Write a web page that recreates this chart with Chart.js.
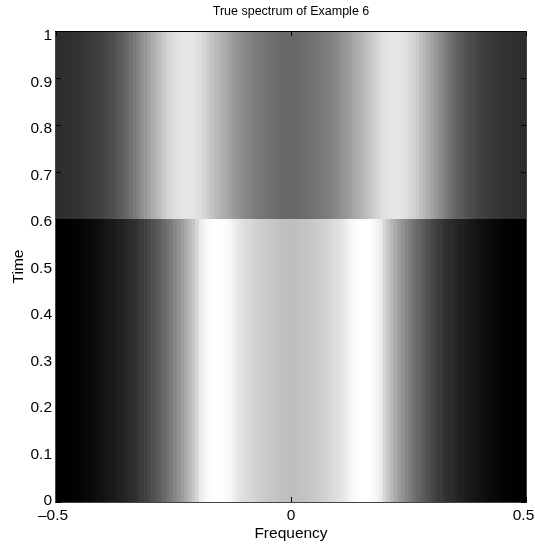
<!DOCTYPE html>
<html>
<head>
<meta charset="utf-8">
<title>True spectrum of Example 6</title>
<script src="https://cdn.jsdelivr.net/npm/chart.js@4/dist/chart.umd.min.js"></script>
<style>
    body { margin: 0; background: #fff; }
    canvas { display: block; }
</style>
</head>
<body>
<canvas id="espectro" width="535" height="544"></canvas>
<script>
// one grey level per frequency column, left to right
const lowerGray = [
    0, 0, 0, 1, 2, 3, 4, 6, 8, 10,
    12, 14, 17, 20, 23, 26, 29, 32, 36, 40,
    44, 48, 53, 59, 65, 72, 80, 88, 96, 104,
    114, 124, 134, 146, 158, 170, 184, 198, 214, 236,
    244, 249, 253, 255, 255, 254, 250, 246, 240, 232,
    226, 222, 218, 214, 210, 207, 204, 201, 199, 197,
    195, 193, 192, 190,
    190, 192, 193, 195,
    197, 199, 201, 204, 207, 210, 214, 218, 222, 226,
    232, 240, 246, 250, 254, 255, 255, 253, 249, 244,
    236, 214, 198, 184, 170, 158, 146, 134, 124, 114,
    104, 96, 88, 80, 72, 65, 59, 53, 48, 44,
    40, 36, 32, 29, 26, 23, 20, 17, 14, 12,
    10, 8, 6, 4, 3, 2, 1, 0, 0, 0
];
const upperGray = [
    45, 46, 47, 48, 49, 50, 52, 54, 56, 58,
    60, 63, 66, 70, 74, 78, 84, 90, 96, 104,
    112, 122, 132, 142, 152, 162, 172, 182, 192, 202,
    210, 216, 222, 226, 228, 230, 230, 229, 226, 220,
    212, 204, 196, 188, 180, 174, 168, 160, 154, 148,
    142, 137, 132, 128, 124, 120, 117, 114, 112, 110,
    108, 106, 105, 104,
    104, 105, 106, 108,
    110, 112, 114, 117, 120, 124, 128, 132, 137, 142,
    148, 154, 160, 168, 174, 180, 188, 196, 204, 212,
    220, 226, 229, 230, 230, 228, 226, 222, 216, 210,
    202, 192, 182, 172, 162, 152, 142, 132, 122, 112,
    104, 96, 90, 84, 78, 74, 70, 66, 63, 60,
    58, 56, 54, 52, 50, 49, 48, 47, 46, 45
];
const timeBreak = 0.6;
const xTickValues = [-0.5, 0, 0.5];
const xTickLabels = ['–0.5', '0', '0.5'];
const yTickValues = [0, 0.1, 0.2, 0.3, 0.4, 0.5, 0.6, 0.7, 0.8, 0.9, 1];
const yTickLabels = ['0', '0.1', '0.2', '0.3', '0.4', '0.5', '0.6', '0.7', '0.8', '0.9', '1'];

// in the original the labels sit a little inside their tick marks
const xLabelAt = [-0.5064, 0, 0.4947];
const yLabelAt = v => 0.0023 + 0.9873 * v;

const FONT = { family: '"Liberation Sans", Arial, sans-serif', size: 15.5 };
const gray = g => `rgb(${g},${g},${g})`;
const columnCenter = i => -0.5 + (i + 0.5) / lowerGray.length;

// matlab style box with the ticks pointing inwards
const boxAndTicks = {
    id: 'boxAndTicks',
    afterDatasetsDraw(chart) {
        const { ctx, chartArea: a, scales: { x, y } } = chart;
        ctx.save();
        ctx.lineWidth = 1;
        ctx.strokeStyle = '#444';
        ctx.strokeRect(a.left - 0.5, a.top + 0.5, a.right - a.left + 1, a.bottom - a.top);
        ctx.strokeStyle = '#000';
        ctx.beginPath();
        ctx.moveTo(a.left - 1, a.top + 0.5); ctx.lineTo(a.right + 1, a.top + 0.5);
        xTickValues.forEach(v => {
            const px = Math.round(x.getPixelForValue(v)) + 0.5;
            ctx.moveTo(px, a.bottom); ctx.lineTo(px, a.bottom - 5);
            ctx.moveTo(px, a.top); ctx.lineTo(px, a.top + 5);
        });
        yTickValues.forEach(v => {
            const py = Math.round(y.getPixelForValue(v)) + 0.5;
            ctx.moveTo(a.left, py); ctx.lineTo(a.left + 5, py);
            ctx.moveTo(a.right, py); ctx.lineTo(a.right - 5, py);
        });
        ctx.stroke();
        ctx.restore();
    }
};

new Chart(document.getElementById('espectro'), {
    type: 'bar',
    data: {
        datasets: [
            {
                label: 'Time 0 to 0.6',
                data: lowerGray.map((_, i) => ({ x: columnCenter(i), y: [0, timeBreak] })),
                backgroundColor: lowerGray.map(gray)
            },
            {
                label: 'Time 0.6 to 1',
                data: upperGray.map((_, i) => ({ x: columnCenter(i), y: [timeBreak, 1] })),
                backgroundColor: upperGray.map(gray)
            }
        ]
    },
    options: {
        responsive: false,
        animation: false,
        layout: { padding: { right: 9 } },
        grouped: false,
        barPercentage: 1,
        categoryPercentage: 1,
        plugins: {
            legend: { display: false },
            tooltip: { enabled: false },
            title: {
                display: true,
                text: 'True spectrum of Example 6',
                color: '#000',
                font: { ...FONT, size: 12.5, weight: 'normal' },
                fullSize: false,
                padding: { top: 4, bottom: 12 }
            }
        },
        scales: {
            x: {
                type: 'linear',
                offset: false,
                min: -0.5,
                max: 0.5,
                grid: { display: false, drawTicks: false },
                border: { display: false },
                afterBuildTicks(scale) { scale.ticks = xLabelAt.map(value => ({ value })); },
                ticks: {
                    autoSkip: false,
                    maxRotation: 0,
                    padding: 4,
                    color: '#000',
                    font: FONT,
                    callback: (v, i) => xTickLabels[i]
                },
                title: { display: true, text: 'Frequency', color: '#000', font: FONT, padding: 1 },
                afterFit(scale) {
                    scale.height = 42;
                    scale.paddingLeft = 0;
                    scale.paddingRight = 0;
                }
            },
            y: {
                min: 0,
                max: 1,
                grid: { display: false, drawTicks: false },
                border: { display: false },
                afterBuildTicks(scale) { scale.ticks = yTickValues.map(v => ({ value: yLabelAt(v) })); },
                ticks: {
                    autoSkip: false,
                    padding: 4,
                    color: '#000',
                    font: FONT,
                    callback: (v, i) => yTickLabels[i]
                },
                title: { display: true, text: 'Time', color: '#000', font: FONT, padding: { top: 9, bottom: 0 } },
                afterFit(scale) {
                    scale.width = 56;
                    scale.paddingTop = 0;
                    scale.paddingBottom = 0;
                }
            }
        }
    },
    plugins: [boxAndTicks]
});
</script>
</body>
</html>
